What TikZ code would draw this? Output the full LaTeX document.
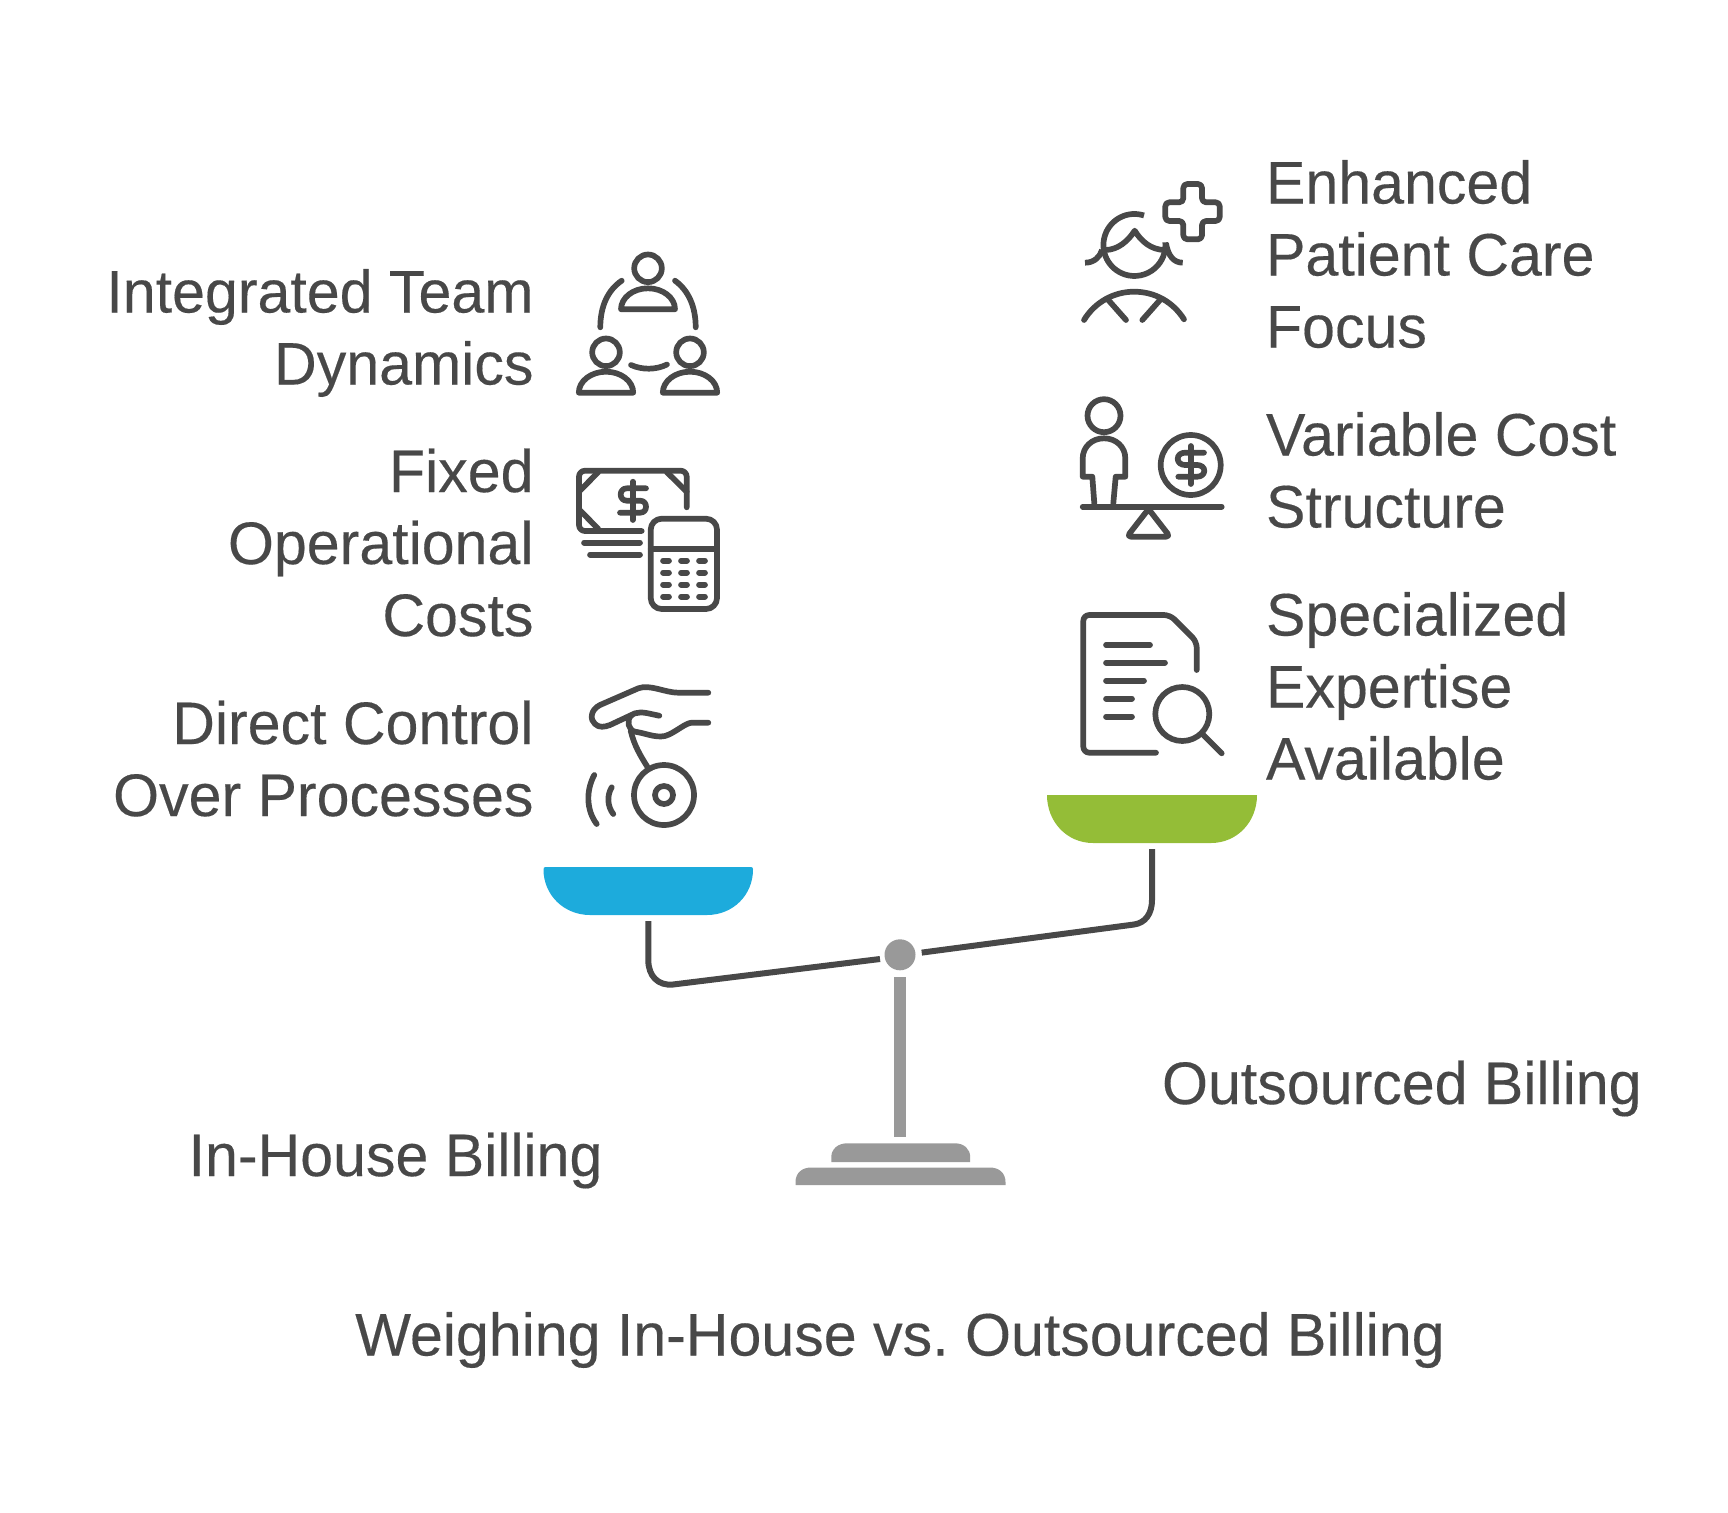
\documentclass[tikz,border=0pt]{standalone}
\usepackage{fontspec}
\setmainfont[FakeStretch=0.985,FakeBold=0.25]{Liberation Sans}
\frenchspacing
\usetikzlibrary{calc}
\definecolor{ink}{HTML}{484848}
\definecolor{stand}{HTML}{999999}
\definecolor{panblue}{HTML}{1DABDC}
\definecolor{pangreen}{HTML}{94BD37}
\tikzset{
  icon/.style={draw=ink,line width=5.7pt,line cap=round,line join=round,fill=none},
  lab/.style={inner sep=0pt,outer sep=0pt,text=ink,font=\fontsize{60}{72}\selectfont},
  labL/.style={lab,anchor=base east,align=right},
  labR/.style={lab,anchor=base west,align=left},
  beam/.style={draw=ink,line width=6pt,line cap=butt,fill=none},
}
\begin{document}
\begin{tikzpicture}[x=1pt,y=-1pt]
\useasboundingbox (0,0) rectangle (1728,1512);
% ---- labels (the anchor is the baseline of the last line)
\node[labL] (l1) at (533.5,384.5) {Integrated Team\\Dynamics};
\node[labL] (l2) at (533.5,636) {Fixed\\Operational\\Costs};
\node[labL] (l3) at (533.5,816) {Direct Control\\Over Processes};
\node[labR] (r1) at (1266,347.5) {Enhanced\\Patient Care\\Focus};
\node[labR] (r2) at (1266,527.5) {Variable Cost\\Structure};
\node[labR] (r3) at (1266,779.5) {Specialized\\Expertise\\Available};
\node[lab,anchor=base west] (outs) at (1162,1104) {Outsourced Billing};
\node[lab,anchor=base west] (inh) at (188.6,1176) {In-House Billing};
\node[lab,anchor=base] (title) at (900,1355.5) {Weighing In-House vs. Outsourced Billing};
% ---- scale
\fill[panblue] (545.5,867) -- (751,867) .. controls (752.5,867) and (753,868) .. (753,869.5)
  .. controls (753,895) and (733,915) .. (707,915) -- (590,915)
  .. controls (564,915) and (543.5,895) .. (543.5,869.5) .. controls (543.5,868) and (544,867) .. (545.5,867) -- cycle;
\fill[pangreen] (1047,795) -- (1257,795) .. controls (1257,822) and (1237,843) .. (1211,843) -- (1093,843)
  .. controls (1067,843) and (1047,822) .. (1047,795) -- cycle;
\node[circle,fill=stand,minimum size=31pt,inner sep=0pt] (pivot) at (900,954.8) {};
\coordinate (beamLend) at (880,959);
\coordinate (beamRend) at (921.7,952.6);
\coordinate (panLhook) at (648.3,921);
\coordinate (panRhook) at (1152,849);
\draw[beam] (panLhook) -- (648.3,960) .. controls (648.3,976) and (658,986) .. (673,984.5) -- (beamLend);
\draw[beam] (beamRend) -- (1134,924.5) .. controls (1145,923) and (1152,914) .. (1152,900) -- (panRhook);
\fill[stand] (894,976.8) rectangle (906,1136.7);
\fill[stand] (831.3,1162) -- (831.3,1157) .. controls (831.3,1149) and (838,1143.3) .. (847,1143.3) -- (955,1143.3)
  .. controls (964,1143.3) and (970.2,1149) .. (970.2,1157) -- (970.2,1162) -- cycle;
\fill[stand] (795.5,1185) -- (795.5,1182) .. controls (795.5,1173) and (802,1167.5) .. (811,1167.5) -- (990,1167.5)
  .. controls (999,1167.5) and (1005.5,1173) .. (1005.5,1182) -- (1005.5,1185) -- cycle;
% ---- team icon
\draw[icon] (648,268.3) circle[radius=13.8pt];
\draw[icon] (621,309.3) arc[start angle=180,end angle=0,x radius=27pt,y radius=21pt] -- cycle;
\draw[icon] (606,352.3) circle[radius=13.8pt];
\draw[icon] (578.8,392.7) arc[start angle=180,end angle=0,x radius=27.2pt,y radius=21pt] -- cycle;
\draw[icon] (690,352.3) circle[radius=13.8pt];
\draw[icon] (662.8,392.7) arc[start angle=180,end angle=0,x radius=27.2pt,y radius=21pt] -- cycle;
\draw[icon] (621.7,280.7) .. controls (608,290) and (600.3,306) .. (600.3,327.3);
\draw[icon] (675,280.7) .. controls (688,290) and (695.7,306) .. (695.7,327.3);
\draw[icon] (631,365) .. controls (642,370) and (656,370) .. (667,364.5);
% ---- money and calculator
\draw[icon,rounded corners=6pt] (641.7,531) -- (579,531) -- (579,470.7) -- (686.7,470.7) -- (686.7,507.3);
\draw[icon] (598.3,472) -- (579,491.7) (579,509.3) -- (598.3,529) (666.7,472) -- (686.7,491.7);
\draw[icon] (632.7,481.7) -- (632.7,520);
\draw[icon] (646,488.3) -- (627,488.3) .. controls (623,488.3) and (620.7,491) .. (620.7,494.5)
  .. controls (620.7,498) and (623,500.7) .. (627,500.7) -- (640,500.7)
  .. controls (644,500.7) and (646,503.5) .. (646,506.7) .. controls (646,510) and (644,512.7) .. (640,512.7) -- (620,512.7);
\draw[icon] (584,542.7) -- (640,542.7) (590,554.7) -- (640,554.7);
\draw[icon,rounded corners=11pt] (650.7,518.7) rectangle (717,609);
\draw[icon] (650.7,548.7) -- (717,548.7);
\foreach \ky in {560.7,572.7,584.7,596.7} \foreach \kx in {666,684,702}
  \draw[icon] (\kx-3,\ky) -- (\kx+3,\ky);
% ---- hand and disc
\draw[icon] (708.3,692.7) -- (678.3,692.7) .. controls (665,692.7) and (650,684) .. (638.3,688.3) -- (600,705)
  .. controls (590,710) and (590,720) .. (595,724) .. controls (599,728) and (605,727) .. (610,725) -- (635,713.3)
  .. controls (642,711) and (650,714) .. (659.3,715.7);
\draw[icon] (708.3,722.7) -- (691.7,722.7) .. controls (685,723) and (675,733) .. (665,736)
  .. controls (655,738) and (645,733) .. (635,731.7) .. controls (628,730) and (626,720) .. (631.7,715);
\draw[icon] (630.7,730.7) .. controls (634,745) and (640,755) .. (647.3,766.7);
\draw[icon] (664,795) circle[radius=30pt];
\draw[icon] (664,795) circle[radius=9pt];
\draw[icon] (594.3,775) .. controls (586,790) and (586,810) .. (596.7,824);
\draw[icon] (611.7,787.3) .. controls (607,795) and (607,806) .. (613.3,814);
% ---- carer and cross
\draw[icon,rounded corners=4pt] (1183.3,184) -- (1202,184) -- (1202,202.3) -- (1219.7,202.3) -- (1219.7,221) -- (1202,221)
  -- (1202,239.3) -- (1183.3,239.3) -- (1183.3,221) -- (1165.3,221) -- (1165.3,202.3) -- (1183.3,202.3) -- cycle;
\draw[icon,line cap=butt] (1144,215.5) arc[start angle=72,end angle=365,radius=31pt];
\draw[icon] (1105,250) .. controls (1118,250) and (1128,241) .. (1134.7,230.7) .. controls (1141,241) and (1151,250) .. (1165,250);
\draw[icon,line cap=butt] (1085,262.7) .. controls (1094,262.7) and (1100,257) .. (1102,250);
\draw[icon,line cap=butt] (1182.7,262.7) .. controls (1174,262.7) and (1168,256) .. (1166,243.3);
\draw[icon] (1084,320) .. controls (1095,302) and (1114,291.7) .. (1134,291.7) .. controls (1155,291.7) and (1173,302) .. (1184,319.3);
\draw[icon] (1108.3,300) -- (1126,320) (1160,300) -- (1142.3,320);
% ---- person, balance, coin
\draw[icon] (1104,415.7) circle[radius=16.5pt];
\draw[icon] (1094.3,503.3) -- (1092.3,476.7) -- (1082.7,476.7) -- (1082.7,458.3)
  .. controls (1082.7,447) and (1092,438.3) .. (1104,438.3) .. controls (1116,438.3) and (1125.3,447) .. (1125.3,458.3)
  -- (1125.3,476.7) -- (1115.7,476.7) -- (1113.3,503.3);
\draw[icon] (1082.7,506.7) -- (1221.7,506.7);
\draw[icon,rounded corners=4pt] (1148.5,509) -- (1127,536.7) -- (1170,536.7) -- cycle;
\draw[icon] (1190.7,465) circle[radius=30pt];
\draw[icon] (1190.7,446) -- (1190.7,484);
\draw[icon] (1204,452.7) -- (1185,452.7) .. controls (1181,452.7) and (1177.7,455) .. (1177.7,458.8)
  .. controls (1177.7,462.5) and (1181,465) .. (1185,465) -- (1197.3,465)
  .. controls (1201,465) and (1204.3,467.3) .. (1204.3,470.8) .. controls (1204.3,474.3) and (1201,476.7) .. (1197.3,476.7) -- (1178.3,476.7);
% ---- document and magnifier
\draw[icon,rounded corners=6pt] (1196.7,670) -- (1196.7,641.7) -- (1170,615) -- (1083.3,615) -- (1083.3,752.7) -- (1156,752.7);
\draw[icon] (1106,645) -- (1150,645) (1106,662.7) -- (1165,662.7) (1106,680.7) -- (1144,680.7)
  (1106,698.7) -- (1132,698.7) (1106,716.7) -- (1132,716.7);
\draw[icon] (1182.3,714) circle[radius=27pt];
\draw[icon] (1203.3,735) -- (1221.7,753.3);
\end{tikzpicture}
\end{document}
